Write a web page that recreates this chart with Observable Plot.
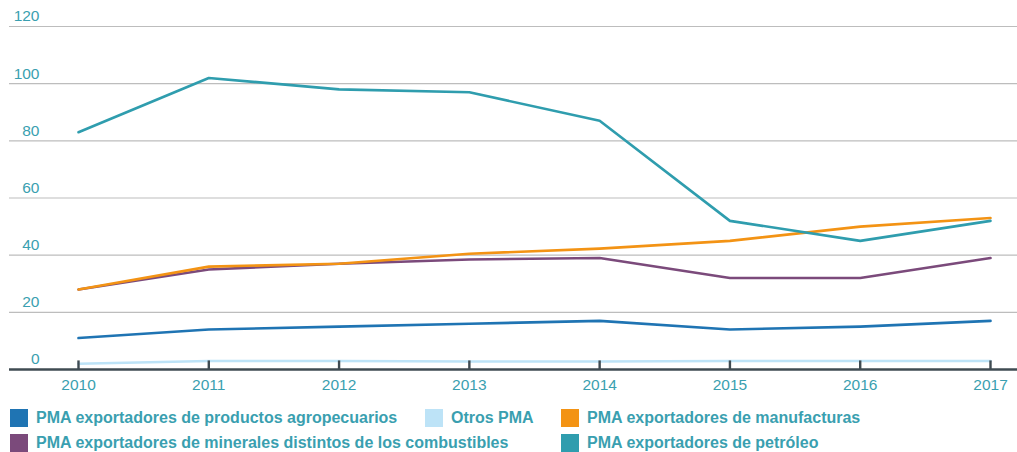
<!DOCTYPE html>
<html>
<head>
<meta charset="utf-8">
<script src="https://cdn.jsdelivr.net/npm/d3@7"></script>
<script src="https://cdn.jsdelivr.net/npm/@observablehq/plot@0.6"></script>
<style>
  html, body { margin: 0; padding: 0; background: #fff; }
  body { width: 1017px; height: 452px; overflow: hidden; font-family: "Liberation Sans", Arial, sans-serif; }
  #chart svg { display: block; }
  .legend { display: grid; grid-template-columns: 415px 136px auto; row-gap: 6px; margin-top: 8px; margin-left: 10px; }
  .item { display: flex; align-items: center; font-weight: bold; font-size: 16px; color: #3a9fb0; height: 19px; white-space: nowrap; }
  .sw { width: 18px; height: 18px; margin-right: 8px; flex: none; }
  .span2 { grid-column: span 2; }
</style>
</head>
<body>
<div id="chart"></div>
<div class="legend" id="legend"></div>
<script>
const years = [2010, 2011, 2012, 2013, 2014, 2015, 2016, 2017];
const agro = [11, 14, 15, 16, 17, 14, 15, 17];
const otros = [2, 3, 3, 2.8, 2.8, 3, 3, 3];
const manufacturas = [28, 36, 37, 40.5, 42.3, 45, 50, 53];
const minerales = [28, 35, 37, 38.5, 39, 32, 32, 39];
const petroleo = [83, 102, 98, 97, 87, 52, 45, 52];
const yTicks = [0, 20, 40, 60, 80, 100, 120];

const series = [
  {name: "Otros PMA", values: otros, color: "#bde3f7"},
  {name: "PMA exportadores de productos agropecuarios", values: agro, color: "#1f74b3"},
  {name: "PMA exportadores de minerales distintos de los combustibles", values: minerales, color: "#7b4a7b"},
  {name: "PMA exportadores de manufacturas", values: manufacturas, color: "#f39314"},
  {name: "PMA exportadores de petróleo", values: petroleo, color: "#2f9dae"}
];
const rows = series.flatMap(s => years.map((y, i) => ({series: s.name, year: y, value: s.values[i], color: s.color})));

const chart = Plot.plot({
  width: 1017,
  height: 400,
  marginLeft: 0, marginRight: 0, marginTop: 0, marginBottom: 0,
  x: {type: "linear", domain: [2010, 2017], range: [78, 990], axis: null},
  y: {domain: [0, 120], range: [369, 26], axis: null},
  marks: [
    Plot.ruleY(yTicks.filter(d => d > 0), {x1: 2010 - 69/130.3, x2: 2017 + 27/130.3, stroke: "#bdbdbd", strokeWidth: 1.2}),
    Plot.text(yTicks, {x: 2010 - 39/130.3, y: d => d, dy: -10, text: d => String(d), textAnchor: "end", fill: "#3a9fb0", fontSize: 15.5, fontFamily: "Liberation Sans, Arial, sans-serif"}),
    ...series.map(s => Plot.line(rows.filter(r => r.series === s.name), {x: "year", y: "value", stroke: s.color, strokeWidth: 2.6, curve: "linear"})),
    Plot.ruleY([0], {x1: 2010 - 69/130.3, x2: 2017 + 27/130.3, stroke: "#3f4b52", strokeWidth: 2.6}),
    Plot.ruleX(years, {x: d => d, y1: 0, y2: 3, stroke: "#3f4b52", strokeWidth: 2.4}),
    Plot.text(years, {x: d => d, y: 0, dy: 15.5, text: d => String(d), fill: "#3a9fb0", fontSize: 15.5, fontFamily: "Liberation Sans, Arial, sans-serif"})
  ]
});
document.getElementById("chart").appendChild(chart);

const legendOrder = [
  {i: 1, span: false}, {i: 0, span: false}, {i: 3, span: false},
  {i: 2, span: true}, {i: 4, span: false}
];
const legend = document.getElementById("legend");
for (const {i, span} of legendOrder) {
  const s = series[i];
  const el = document.createElement("div");
  el.className = "item" + (span ? " span2" : "");
  el.innerHTML = `<span class="sw" style="background:${s.color}"></span><span>${s.name}</span>`;
  legend.appendChild(el);
}
</script>
</body>
</html>
